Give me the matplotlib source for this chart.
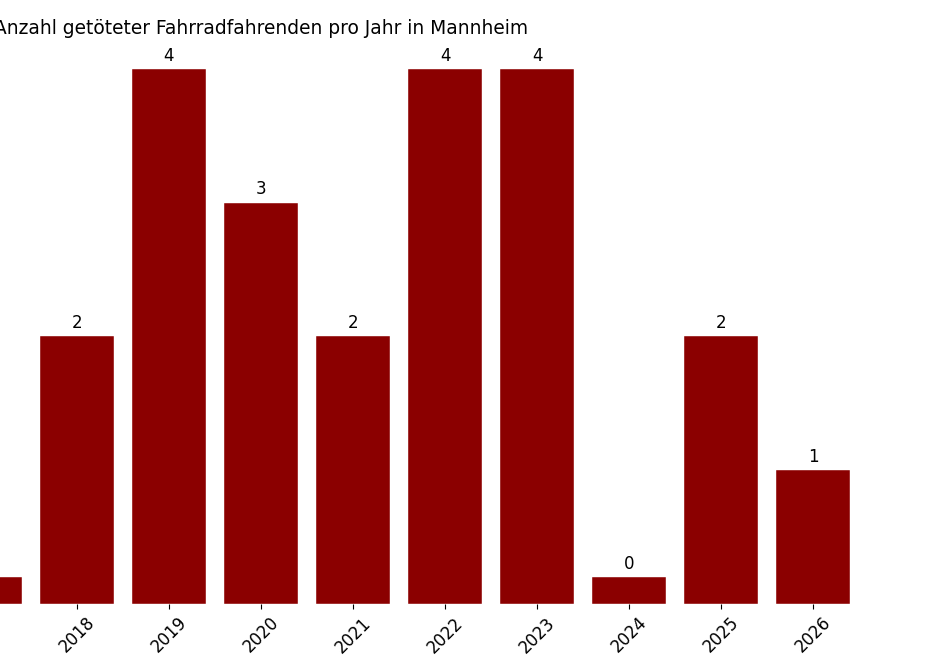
import matplotlib
matplotlib.use('Agg')
import matplotlib.pyplot as plt

# data (only the years visible in the picture)
years = [2017, 2018, 2019, 2020, 2021, 2022, 2023, 2024, 2025, 2026]
deaths = [0, 2, 4, 3, 2, 4, 4, 0, 2, 1]

# zero values are drawn as a small stub so they stay visible
heights = [v if v > 0 else 0.2 for v in deaths]

fig = plt.figure(figsize=(9.26, 6.71), dpi=100)
# axes runs off the left edge of the figure, as in the reference
ax = fig.add_axes([-387 / 926, 67 / 671, 1296 / 926, 562 / 671])

bars = ax.bar(years, heights, width=0.8, color='darkred', edgecolor='white', linewidth=0.3)
for b, v in zip(bars[1:], deaths[1:]):
    # the first bar sits mostly off the picture, its label is not visible
    ax.annotate(str(v), (b.get_x() + b.get_width() / 2, b.get_height()),
                xytext=(0, 3), textcoords='offset points',
                ha='center', va='bottom', fontsize=12)

ax.set_xlim(2012.96, 2027.04)
ax.set_ylim(0, 4.2)
ax.set_xticks(years[1:])
ax.set_xticklabels([str(y) for y in years[1:]], rotation=45, fontsize=12)
ax.set_yticks([])
for s in ax.spines.values():
    s.set_visible(False)
ax.set_title('Anzahl getöteter Fahrradfahrenden pro Jahr in Mannheim', fontsize=13.4)

fig.savefig('out.png', dpi=100)
